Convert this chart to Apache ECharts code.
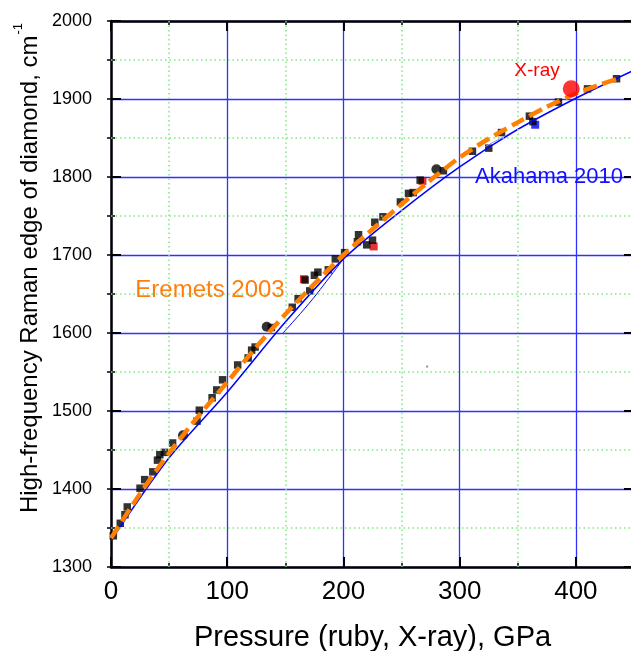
<!DOCTYPE html>
<html>
<head>
<meta charset="utf-8">
<script src="https://cdn.jsdelivr.net/npm/echarts@6/dist/echarts.min.js"></script>
<style>html,body{margin:0;padding:0;background:#fff}#c{width:631px;height:651px}</style>
</head>
<body>
<div id="c"></div>
<script>
// ---- data ----
const squareP = [2,8,12,14,25,29,36,40,42,46,53,74,76,87,91,96,109,118,121,124,138,156,161,171,167,175,178,187,193,201,212,213,220,225,227,234,249,256,260,266,286,311,325,336,360,363,385,410,435];
const squareW = [1340,1356,1367,1377,1401,1412,1422,1437,1444,1447,1459,1487,1501,1517,1527,1540,1559,1568,1578,1582,1607,1633,1644,1654,1668,1674,1678,1681,1695,1703,1717,1726,1713,1719,1742,1749,1768,1779,1780,1796,1808,1833,1837,1857,1878,1871,1896,1913,1926];
const circleP = [62,134,280];
const circleW = [1469,1608,1810];
const redSmallP = [226,166,268];
const redSmallW = [1711,1669,1795];
const blueSquareP = [365];
const blueSquareW = [1867];
const xrayP = [396];
const xrayW = [1913];
const speckP = [272];
const speckW = [1557];
const eremetsP = [0,25,50,75,100,125,150,175,200,225,250,275,300,325,350,375,400,420,438];
const eremetsW = [1337,1394,1446,1493,1537,1582,1624,1663,1700,1733,1765,1796,1825,1849,1870,1890,1907,1918,1927];
const akahamaP = [0,50,100,150,200,250,300,350,400,450];
const akahamaW = [1334,1440,1524,1614,1695,1757,1813,1861,1901,1937];
const akahama2P = [148,163,177,200];
const akahama2W = [1600,1625,1650,1695];
const faintP = [322,362];
const faintW = [1839,1871];
const xMinorGrid = [50,150,250,350];
const yMinorGrid = [1350,1450,1550,1650,1750,1850,1950];

const zip = (a,b) => a.map((v,i)=>[v,b[i]]);
const FONT = 'Arial, "Liberation Sans", sans-serif';
const BLUE_GRID = '#3030ff';
const GREEN_GRID = '#80e880';

const chart = echarts.init(document.getElementById('c'), null, {renderer:'canvas'});

function majorX(pos, labels){
  return {
    type:'value', position:pos, min:0, max:450, interval:100,
    axisLine:{show:true, onZero:false, lineStyle:{color:'#000', width:2.5}},
    axisTick:{show:true, inside:true, length:10, lineStyle:{color:'#000', width:2}},
    axisLabel:{show:labels, showMaxLabel:false, fontSize:26, color:'#000', fontFamily:FONT, margin:12},
    splitLine:{show:labels, lineStyle:{color:BLUE_GRID, width:1.3}}
  };
}
function minorX(pos){
  return {
    type:'value', position:pos, min:0, max:450, interval:50,
    axisLine:{show:false},
    axisTick:{show:true, inside:true, length:4, lineStyle:{color:'#000', width:1.5}},
    axisLabel:{show:false},
    splitLine:{show:false}
  };
}
function majorY(pos, labels){
  return {
    type:'value', position:pos, min:1300, max:2000, interval:100,
    axisLine:{show:true, onZero:false, lineStyle:{color:'#000', width:2.5}},
    axisTick:{show:true, inside:true, length:10, lineStyle:{color:'#000', width:2}},
    axisLabel:{show:labels, fontSize:18, color:'#000', fontFamily:FONT, margin:19, formatter:(v)=>String(v)},
    splitLine:{show:labels, lineStyle:{color:BLUE_GRID, width:1.3}}
  };
}
function minorY(pos){
  return {
    type:'value', position:pos, min:1300, max:2000, interval:50,
    axisLine:{show:false},
    axisTick:{show:true, inside:true, length:4, lineStyle:{color:'#000', width:1.5}},
    axisLabel:{show:false},
    splitLine:{show:false}
  };
}

const xMain = majorX('bottom', true);
xMain.name = 'Pressure (ruby, X-ray), GPa';
xMain.nameLocation = 'middle';
xMain.nameGap = 71;
xMain.nameTextStyle = {fontSize:29, color:'#000', fontFamily:FONT, verticalAlign:'middle'};

const minorLines = xMinorGrid.map(v=>({xAxis:v})).concat(yMinorGrid.map(v=>({yAxis:v})));

const option = {
  animation:false,
  backgroundColor:'#fff',
  grid:{left:111, top:21, right:-3, bottom:84, containLabel:false, outerBoundsMode:'none'},
  xAxis:[xMain, minorX('bottom'), majorX('top', false), minorX('top')],
  yAxis:[majorY('left', true), minorY('left'), majorY('right', false), minorY('right')],
  graphic:[
    {type:'text', x:27, y:268, rotation:Math.PI/2, z:10,
     style:{text:'{a|High-frequency Raman edge of diamond, cm}{s|-1}', align:'center', verticalAlign:'middle',
       fill:'#000', font:'24px ' + FONT,
       rich:{a:{fontSize:24, fontFamily:FONT, fill:'#000', lineHeight:30, verticalAlign:'bottom'},
             s:{fontSize:13, fontFamily:FONT, fill:'#000', lineHeight:30, verticalAlign:'top', padding:[0,0,0,1]}}}},
    {type:'text', x:210, y:290, z:10, style:{text:'Eremets 2003', fill:'#ff7f0e', font:'24px ' + FONT, align:'center', verticalAlign:'middle'}},
    {type:'text', x:475, y:177, z:10, style:{text:'Akahama 2010', fill:'#1010ff', font:'22px ' + FONT, align:'left', verticalAlign:'middle'}},
    {type:'text', x:537, y:71, z:10, style:{text:'X-ray', fill:'#ff0000', font:'19px ' + FONT, align:'center', verticalAlign:'middle'}}
  ],
  series:[
    {type:'line', name:'minor grid', data:[], z:0, silent:true,
     markLine:{silent:true, symbol:['none','none'], label:{show:false}, animation:false,
       lineStyle:{color:GREEN_GRID, width:1.5, type:[1.5,3]}, emphasis:{disabled:true}, data:minorLines}},
    {type:'scatter', name:'red', data:zip(redSmallP, redSmallW), symbol:'rect', symbolSize:8, itemStyle:{color:'#e00000'}, z:2},
    {type:'scatter', name:'blueSq', data:zip(blueSquareP, blueSquareW), symbol:'rect', symbolSize:8, itemStyle:{color:'#0000ff'}, z:2},
    {type:'scatter', name:'squares', data:zip(squareP, squareW), symbol:'rect', symbolSize:7.5, itemStyle:{color:'#000'}, z:3},
    {type:'scatter', name:'circles', data:zip(circleP, circleW), symbol:'circle', symbolSize:10, itemStyle:{color:'#000'}, z:3},
    {type:'scatter', name:'speck', data:zip(speckP, speckW), symbol:'rect', symbolSize:2, itemStyle:{color:'#777'}, z:3},
    {type:'line', name:'faint', data:zip(faintP, faintW), showSymbol:false, symbol:'none', lineStyle:{color:'#8a8aff', width:1}, z:4},
    {type:'line', name:'Akahama2', data:zip(akahama2P, akahama2W), showSymbol:false, symbol:'none', smooth:0.3, lineStyle:{color:'#0000ff', width:1}, z:4},
    {type:'line', name:'Akahama 2010', data:zip(akahamaP, akahamaW), showSymbol:false, symbol:'none', smooth:0.3, lineStyle:{color:'#0000ff', width:1.5}, z:4},
    {type:'line', name:'Eremets 2003', data:zip(eremetsP, eremetsW), showSymbol:false, symbol:'none', smooth:0.3, lineStyle:{color:'#ff7f00', width:4.5, type:[14,6]}, z:5},
    {type:'scatter', name:'X-ray', data:zip(xrayP, xrayW), symbol:'circle', symbolSize:17, itemStyle:{color:'#ff0000'}, z:6}
  ]
};
chart.setOption(option);
</script>
</body>
</html>
